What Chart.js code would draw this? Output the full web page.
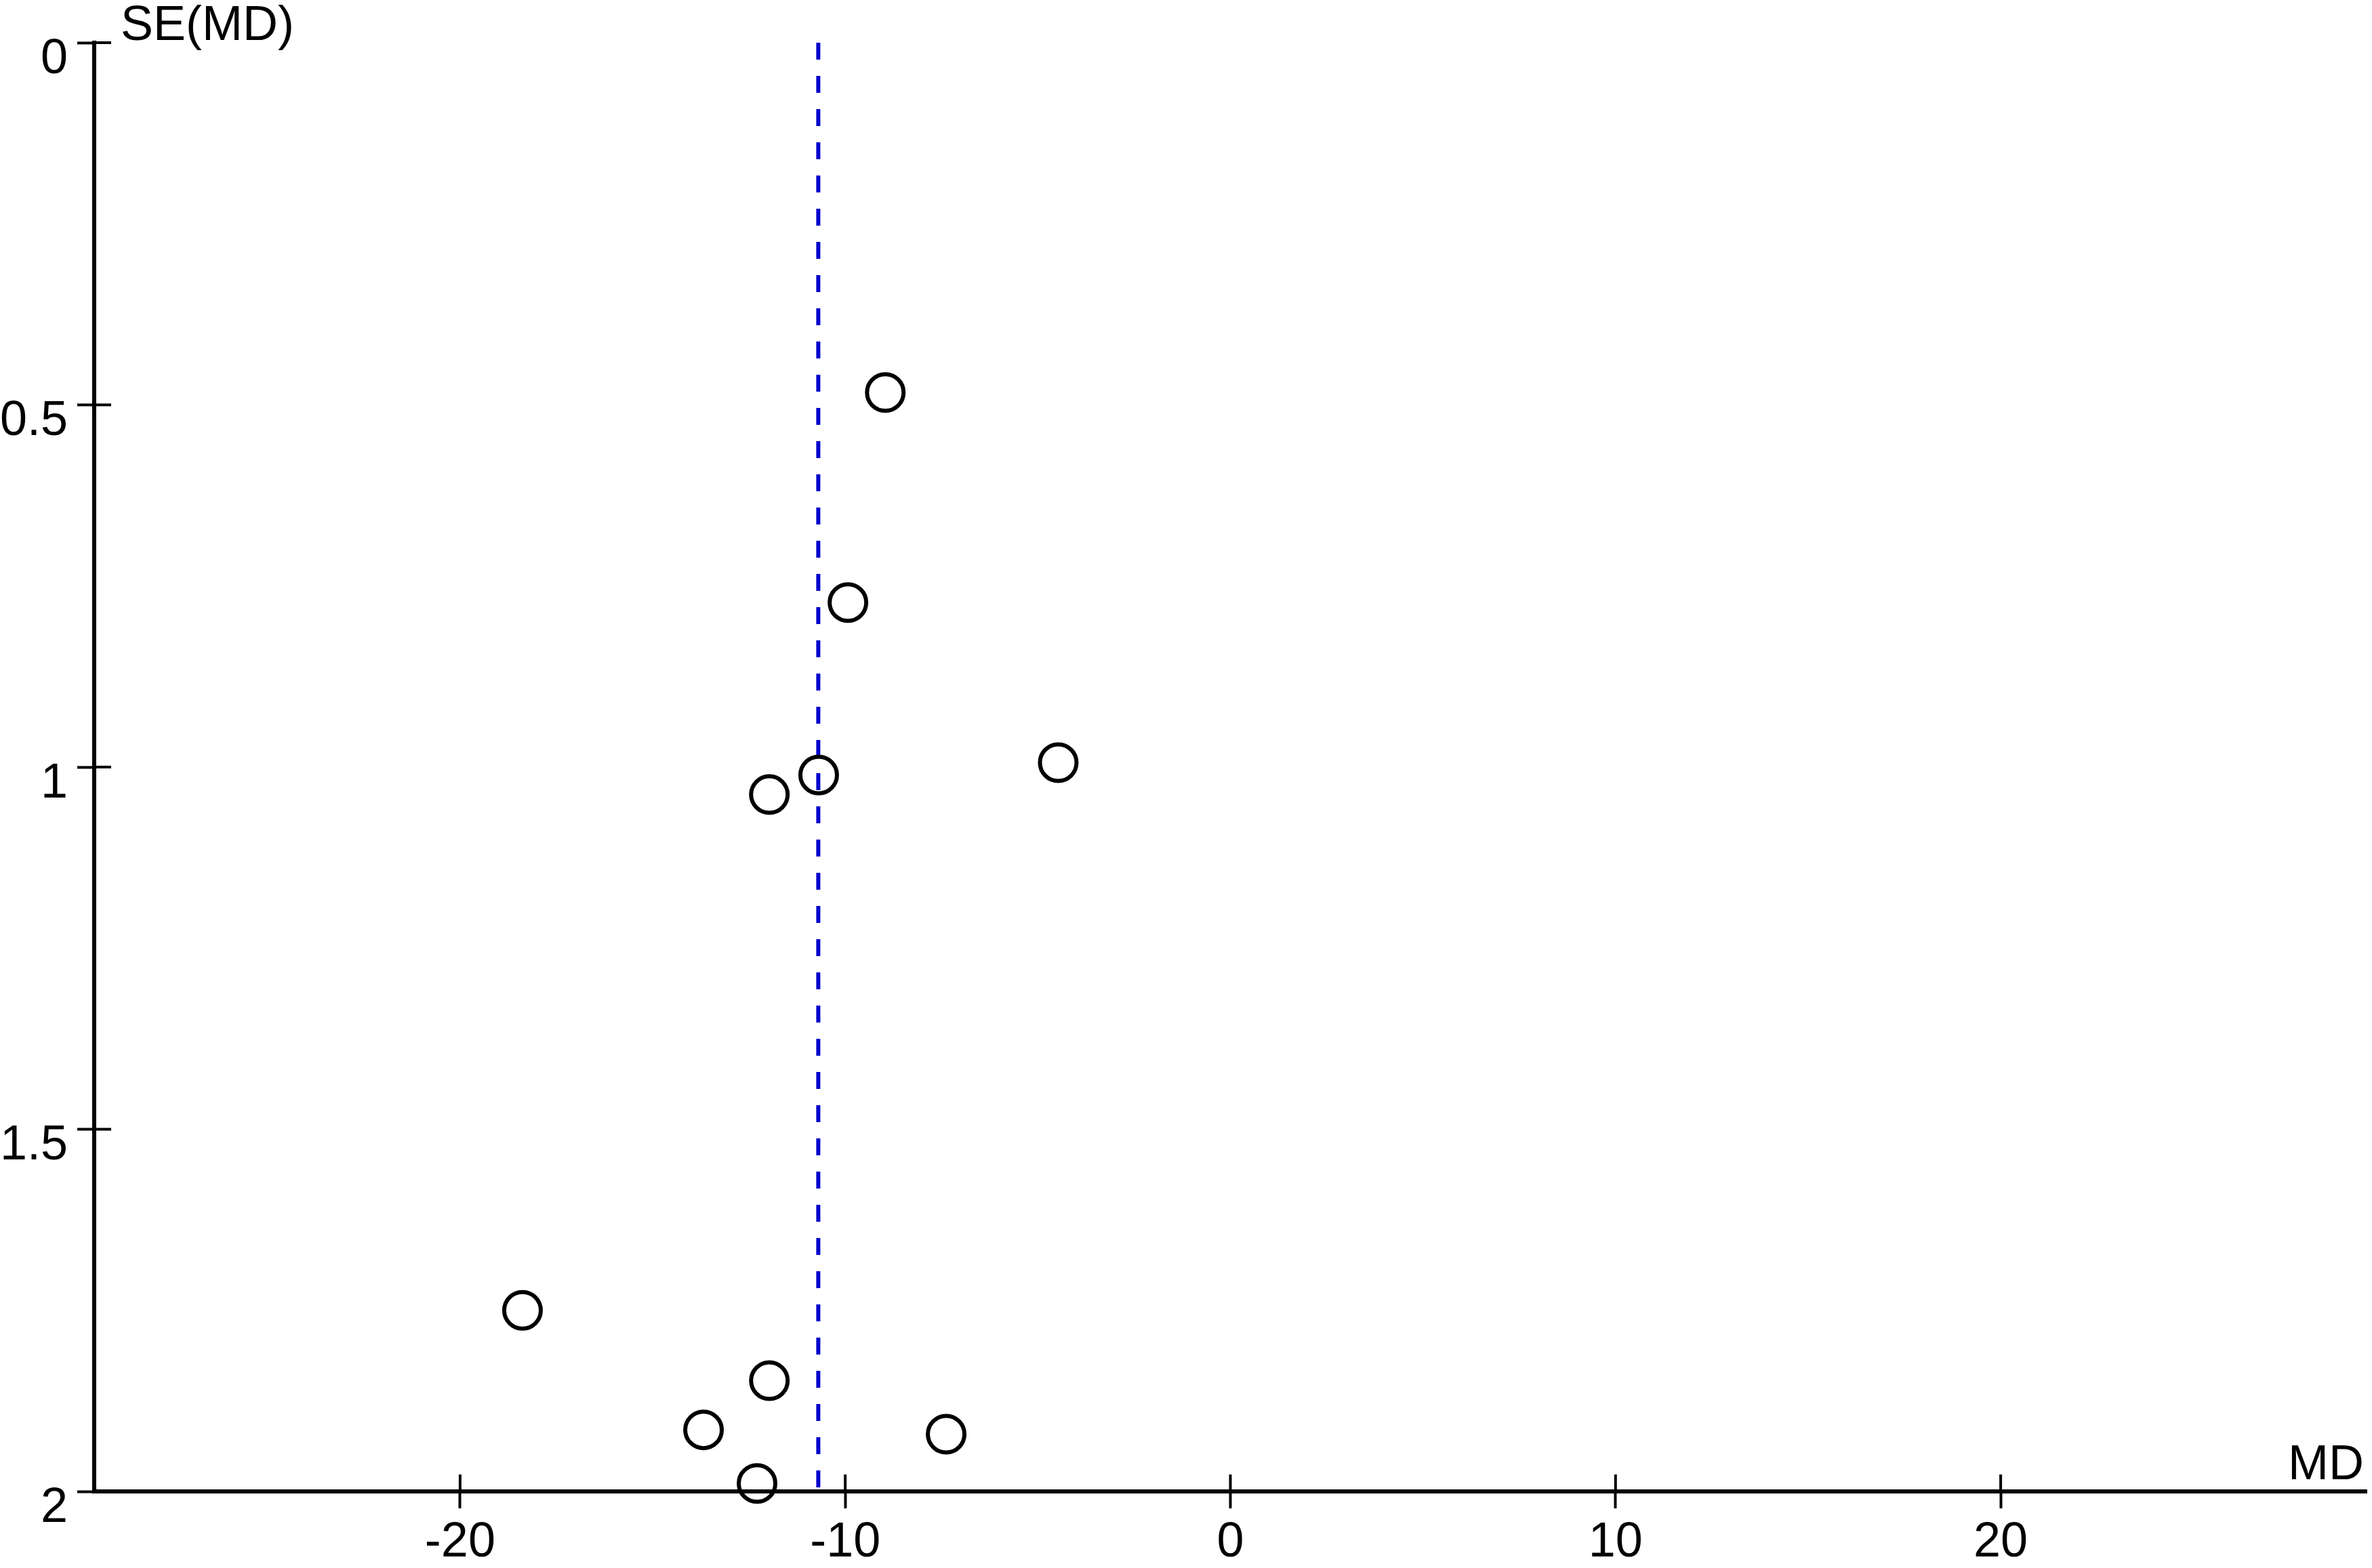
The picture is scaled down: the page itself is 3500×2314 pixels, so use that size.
<!DOCTYPE html>
<html lang="en">
<head>
    <meta charset="UTF-8">
    <title>Funnel plot</title>
    <script src="https://cdn.jsdelivr.net/npm/chart.js"></script>
    <style>
        html, body { margin: 0; padding: 0; background: #fff; overflow: hidden; }
        canvas { display: block; }
    </style>
</head>
<body>
<canvas id="chartCanvas" width="3500" height="2314"></canvas>
<script>
    // study estimates
    const md = [-8.96, -9.93, -4.47, -10.69, -11.97, -18.38, -11.97, -13.68, -7.38, -12.29];
    const se = [0.483, 0.773, 0.994, 1.011, 1.038, 1.750, 1.847, 1.915, 1.921, 1.989];
    const pooledMD = -10.70;
    const seRange = [0, 2];
    const xRange = [-29.5, 29.5];
    const xTicks = [-20, -10, 0, 10, 20];
    const yTicks = [0, 0.5, 1, 1.5, 2];
    const xLabel = 'MD';
    const yLabel = 'SE(MD)';

    const FONT = '"Liberation Sans", Arial, sans-serif';
    const TICK = 25;

    // inner half of the cross ticks + the two axis names
    const axisExtras = {
        id: 'axisExtras',
        afterDraw(chart) {
            const { ctx, chartArea, scales } = chart;
            ctx.save();
            ctx.strokeStyle = '#000';
            ctx.lineWidth = 4;
            ctx.beginPath();
            xTicks.forEach(v => {
                const px = scales.x.getPixelForValue(v);
                ctx.moveTo(px, chartArea.bottom);
                ctx.lineTo(px, chartArea.bottom - TICK);
            });
            yTicks.forEach(v => {
                if (v === seRange[1]) return;
                const py = scales.y.getPixelForValue(v);
                ctx.moveTo(chartArea.left, py);
                ctx.lineTo(chartArea.left + TICK, py);
            });
            ctx.stroke();

            ctx.fillStyle = '#000';
            ctx.font = '72px ' + FONT;
            ctx.textBaseline = 'alphabetic';
            ctx.textAlign = 'left';
            ctx.fillText(yLabel, chartArea.left + 39, 59);
            ctx.textAlign = 'right';
            ctx.fillText(xLabel, chartArea.right - 4, chartArea.bottom - 18);
            ctx.restore();
        }
    };

    const ctx = document.getElementById('chartCanvas').getContext('2d');
    new Chart(ctx, {
        type: 'scatter',
        data: {
            datasets: [
                {
                    label: 'Studies',
                    data: md.map((x, i) => ({ x: x, y: se[i] })),
                    pointStyle: 'circle',
                    pointRadius: 27,
                    pointHoverRadius: 27,
                    pointBorderWidth: 6,
                    pointBorderColor: '#000',
                    pointBackgroundColor: 'rgba(0,0,0,0)',
                    showLine: false,
                    clip: false
                },
                {
                    label: 'Pooled MD',
                    type: 'line',
                    data: seRange.map(y => ({ x: pooledMD, y: y })),
                    borderColor: '#0000cc',
                    borderWidth: 6,
                    borderDash: [25, 24],
                    pointRadius: 0,
                    fill: false
                }
            ]
        },
        options: {
            responsive: false,
            animation: false,
            layout: { autoPadding: false, padding: { top: 63, right: 8, left: 0, bottom: 0 } },
            plugins: {
                legend: { display: false },
                tooltip: { enabled: false }
            },
            scales: {
                x: {
                    type: 'linear',
                    min: xRange[0],
                    max: xRange[1],
                    afterBuildTicks: s => { s.ticks = xTicks.map(v => ({ value: v })); },
                    afterFit: s => { s.height = 113; s.paddingLeft = 0; s.paddingRight = 0; },
                    grid: { drawOnChartArea: false, drawTicks: true, tickLength: TICK, tickWidth: 4, color: '#000' },
                    border: { display: true, color: '#000', width: 6 },
                    ticks: {
                        color: '#000',
                        font: { size: 72, family: FONT },
                        padding: 8,
                        maxRotation: 0,
                        autoSkip: false,
                        callback: v => String(v)
                    }
                },
                y: {
                    type: 'linear',
                    reverse: true,
                    min: seRange[0],
                    max: seRange[1],
                    afterBuildTicks: s => { s.ticks = yTicks.map(v => ({ value: v })); },
                    afterFit: s => { s.width = 139; },
                    grid: { drawOnChartArea: false, drawTicks: true, tickLength: TICK, tickWidth: 4, color: '#000' },
                    border: { display: true, color: '#000', width: 6 },
                    ticks: {
                        color: '#000',
                        font: { size: 72, family: FONT },
                        padding: 14,
                        labelOffset: 25,
                        autoSkip: false,
                        callback: v => String(v)
                    }
                }
            }
        },
        plugins: [axisExtras]
    });
</script>
</body>
</html>
